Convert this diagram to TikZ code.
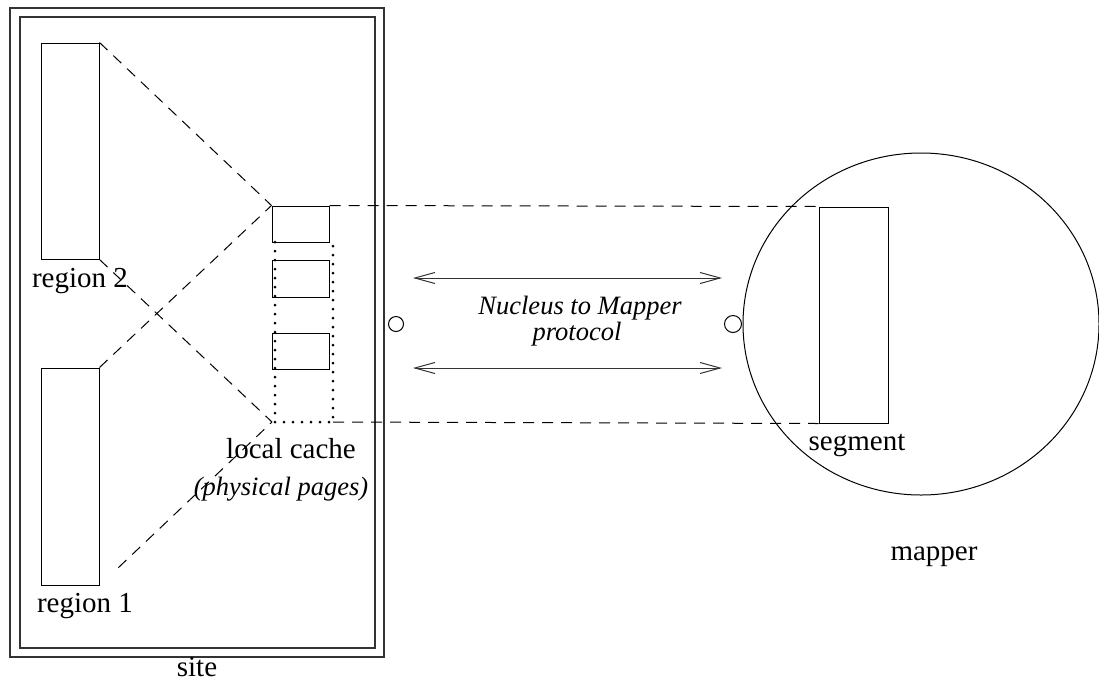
\documentclass[tikz,border=0pt]{standalone}
\usepackage{fontspec}
\setmainfont{Liberation Serif}
\usetikzlibrary{shapes.geometric,arrows.meta}
\tikzset{
  x=1pt, y=-1pt,
  every path/.style={line width=1pt},
  boxshape/.style={draw, line width=1pt, inner sep=0pt, rectangle},
  sitebox/.style={draw, line width=1.4pt, black!80},
  dashline/.style={dash pattern=on 11pt off 8pt, line width=1pt},
  dotline/.style={dash pattern=on 0pt off 9pt, line width=3pt, line cap=round},
  label/.style={anchor=base, inner sep=0pt, font=\fontsize{29}{30}\selectfont},
  ilabel/.style={anchor=base, inner sep=0pt, font=\fontsize{26.5}{28}\selectfont\itshape},
  proto/.style={draw, line width=1pt, black!80, {Straight Barb[length=20pt,width=11pt]}-{Straight Barb[length=20pt,width=11pt]}},
  port/.style={draw, circle, line width=1pt, inner sep=0pt, minimum size=15pt}
}
\begin{document}
\begin{tikzpicture}
\useasboundingbox (0,0) rectangle (1099,681);
% site double border
\draw[sitebox] (10,8) rectangle (384,657);
\draw[sitebox] (20,17) rectangle (375,648);
% regions
\node[boxshape, minimum width=58pt, minimum height=216pt] (r2) at (70,151) {};
\node[boxshape, minimum width=58pt, minimum height=217pt] (r1) at (70,476.5) {};
% cache pages
\node[boxshape, minimum width=57pt, minimum height=36pt] (c1) at (300.5,224) {};
\node[boxshape, minimum width=57pt, minimum height=37pt] (c2) at (300.5,278.5) {};
\node[boxshape, minimum width=57pt, minimum height=36pt] (c3) at (300.5,351) {};
\coordinate (cbl) at (272,422);
\coordinate (dtl) at (275,242);
\coordinate (dtr) at (333,242);
\coordinate (dbl) at (275,422);
\coordinate (dbr) at (333,422);
% dotted frame
\draw[dotline] (dtl) -- (dbl) -- (dbr) -- (dtr);
% mapper
\node[draw, ellipse, line width=1pt, minimum width=356pt, minimum height=342pt, inner sep=0pt] (mapper) at (921,324) {};
\node[boxshape, minimum width=69pt, minimum height=216pt] (seg) at (853.5,315) {};
% ports
\node[port] (p1) at (396,324) {};
\node[port, minimum size=17pt] (p2) at (733,324) {};
% dashed projection lines
\draw[dashline] (r2.north east) -- (c1.north west);
\draw[dashline] (r1.north east) -- (c1.north west);
\draw[dashline] (r2.south east) -- (cbl);
\draw[dashline, shorten <=26pt] (r1.south east) -- (cbl);
\draw[dashline] (c1.north east) -- (seg.north west);
\draw[dashline] (dbr) -- (seg.south west);
% protocol arrows
\coordinate (a1l) at (413,278);
\coordinate (a1r) at (722,278);
\coordinate (a2l) at (413,368);
\coordinate (a2r) at (722,368);
\draw[proto] (a1l) -- (a1r);
\draw[proto] (a2l) -- (a2r);
% labels
\node[label] (lr2) at (80,287) {region 2};
\node[label] (lr1) at (85,612) {region 1};
\node[label] (llc) at (291,458) {local cache};
\node[ilabel] (lpp) at (281,495) {(physical pages)};
\node[label] (lsite) at (197,676) {site};
\node[label] (lseg) at (857,450) {segment};
\node[label] (lmap) at (934,560) {mapper};
\node[ilabel] (ln1) at (580,314) {Nucleus to Mapper};
\node[ilabel] (ln2) at (577,340) {protocol};
\end{tikzpicture}
\end{document}
